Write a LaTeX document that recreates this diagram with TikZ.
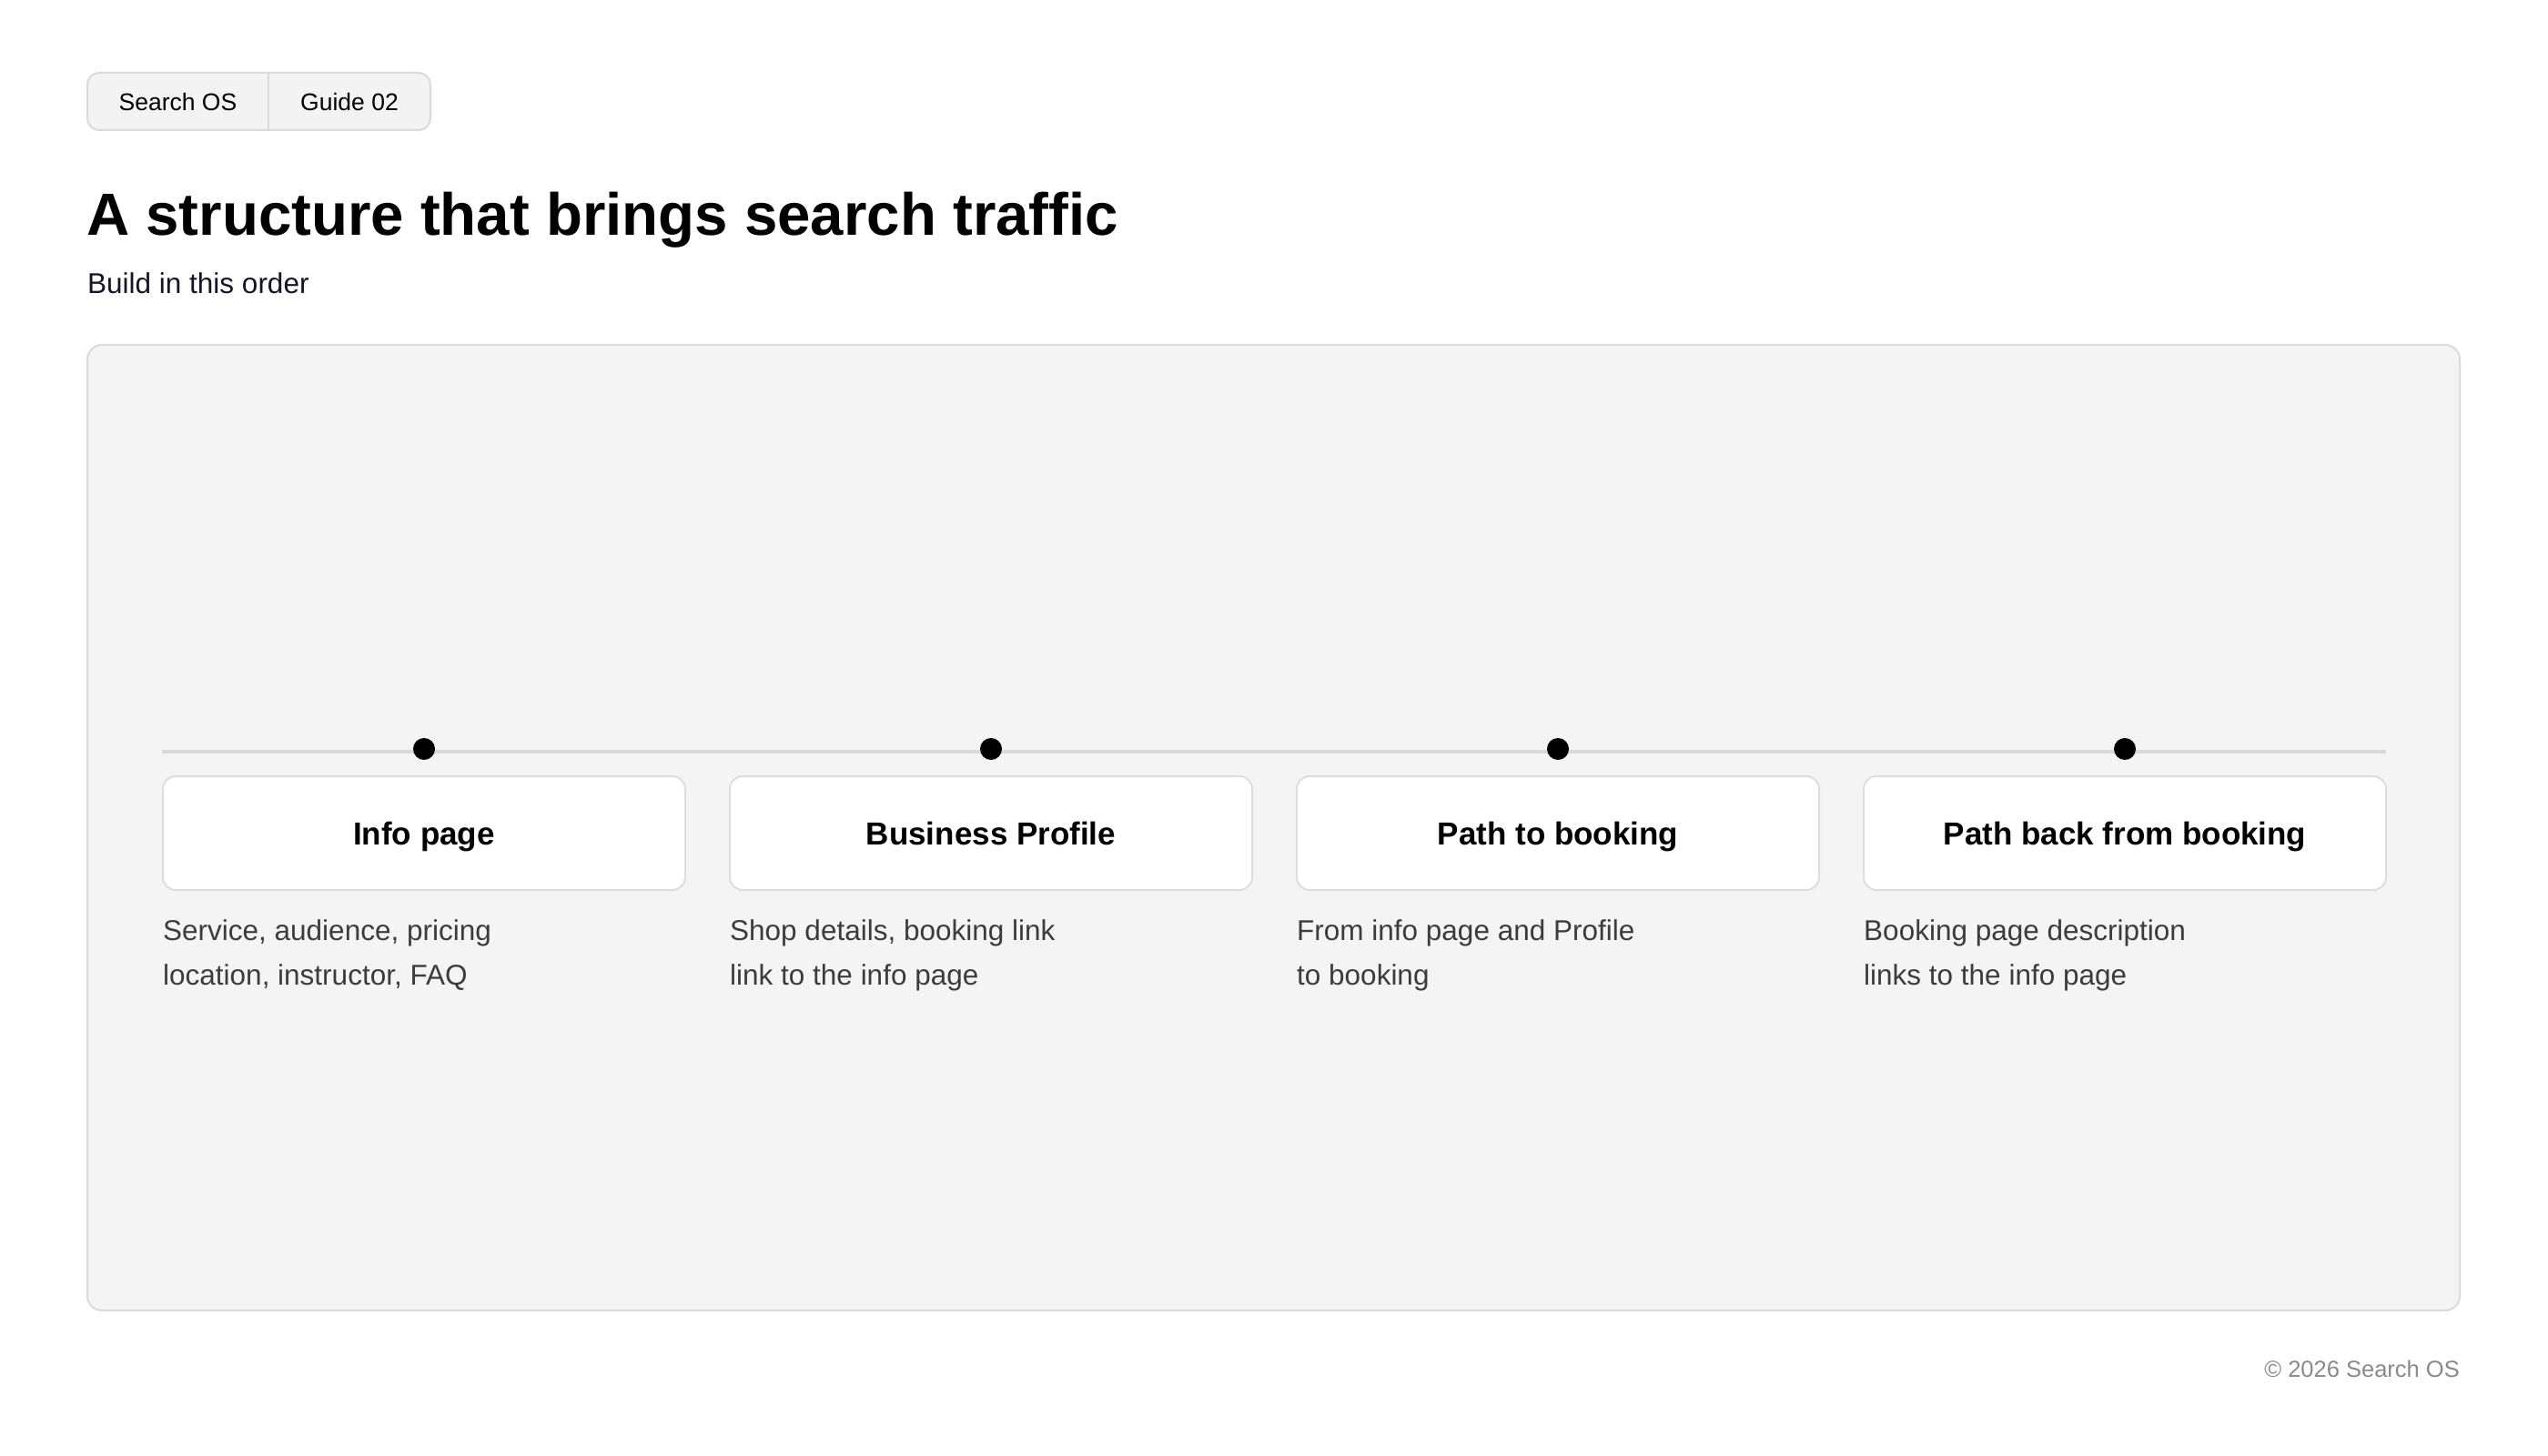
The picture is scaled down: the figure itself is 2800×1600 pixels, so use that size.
\documentclass[tikz,border=0pt]{standalone}
\usepackage{fontspec}
\setmainfont{Liberation Sans}
\definecolor{panelfill}{HTML}{F4F4F4}
\definecolor{panelline}{HTML}{DADADA}
\definecolor{pillfill}{HTML}{F3F3F3}
\definecolor{boxline}{HTML}{DDDDDD}
\definecolor{desctext}{HTML}{3C3C3C}
\definecolor{subtext}{HTML}{14142A}
\definecolor{foottext}{HTML}{8A8A8A}
\tikzset{
  pill/.style={draw=panelline, fill=pillfill, line width=2pt, rounded corners=13pt},
  pilltext/.style={inner sep=0pt, anchor=base, font=\fontsize{26.5}{30}\selectfont},
  panel/.style={draw=panelline, fill=panelfill, line width=2pt, rounded corners=16pt},
  tline/.style={draw=panelline, line width=4pt},
  dotn/.style={circle, fill=black, minimum size=24pt, inner sep=0pt},
  stepbox/.style={draw=boxline, fill=white, line width=2pt, rounded corners=14pt,
    minimum width=574pt, minimum height=125pt, inner sep=0pt,
    text height=25pt, text depth=0pt, font=\bfseries\fontsize{35}{40}\selectfont},
  desc/.style={inner sep=0pt, anchor=base west, text=desctext, font=\fontsize{31.5}{36}\selectfont},
}
\begin{document}
\begin{tikzpicture}[x=1pt,y=-1pt]
\useasboundingbox[fill=white] (0,0) rectangle (2800,1600);
% header pills
\draw[pill] (96,80) rectangle (473,143);
\draw[draw=panelline, line width=2pt] (295,80) -- (295,143);
\node[pilltext] (pa) at (195.5,122) {Search OS};
\node[pilltext] (pb) at (384,122) {Guide 02};
% title
\node[inner sep=0pt, anchor=base west, font=\bfseries\fontsize{65.4}{72}\selectfont] (title) at (95,258) {A structure that brings search traffic};
\node[inner sep=0pt, anchor=base west, text=subtext, font=\fontsize{31.5}{36}\selectfont] (sub) at (96,322) {Build in this order};
% panel
\draw[panel] (96,379) rectangle (2703,1440);
% timeline
\coordinate (tl) at (178,825.5);
\coordinate (tr) at (2622,825.5);
\draw[tline] (tl) -- (tr);
\node[dotn] (p1) at (466,823) {};
\node[dotn] (p2) at (1089,823) {};
\node[dotn] (p3) at (1712,823) {};
\node[dotn] (p4) at (2335,823) {};
% boxes
\node[stepbox] (b1) at (466,915.5) {Info page};
\node[stepbox] (b2) at (1089,915.5) {Business Profile};
\node[stepbox] (b3) at (1712,915.5) {Path to booking};
\node[stepbox] (b4) at (2335,915.5) {Path back from booking};
% descriptions
\node[desc] (d1a) at (179,1033) {Service, audience, pricing};
\node[desc] (d1b) at (179,1082) {location, instructor, FAQ};
\node[desc] (d2a) at (802,1033) {Shop details, booking link};
\node[desc] (d2b) at (802,1082) {link to the info page};
\node[desc] (d3a) at (1425,1033) {From info page and Profile};
\node[desc] (d3b) at (1425,1082) {to booking};
\node[desc] (d4a) at (2048,1033) {Booking page description};
\node[desc] (d4b) at (2048,1082) {links to the info page};
% footer
\node[inner sep=0pt, anchor=base east, text=foottext, font=\fontsize{25.5}{30}\selectfont] (foot) at (2703,1513) {© 2026 Search OS};
\end{tikzpicture}
\end{document}
